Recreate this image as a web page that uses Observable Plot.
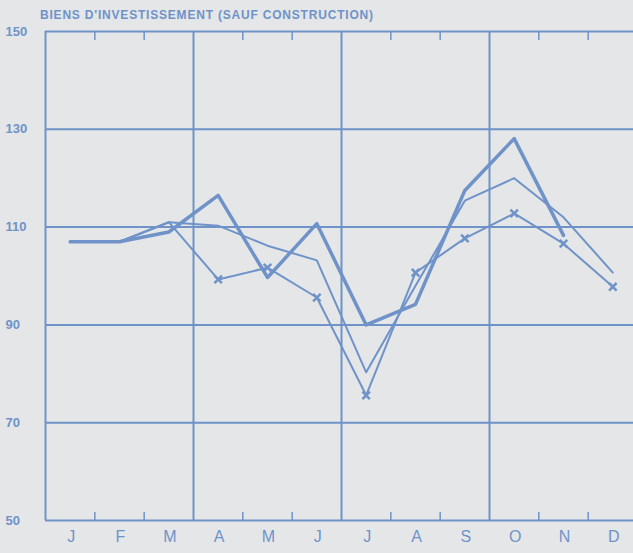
<!DOCTYPE html>
<html>
<head>
<meta charset="utf-8">
<script src="https://cdn.jsdelivr.net/npm/d3@7"></script>
<script src="https://cdn.jsdelivr.net/npm/@observablehq/plot@0.6"></script>
<style>
  html, body { margin: 0; padding: 0; background: #e4e6e8; width: 633px; height: 553px; overflow: hidden; }
  #wrap { position: relative; width: 633px; height: 553px; }
  #title { position: absolute; left: 40px; top: 8px;
    font-family: "Liberation Sans", sans-serif; font-weight: bold; font-size: 12px; letter-spacing: 0.8px;
    color: #6f93c8; white-space: nowrap; }
  svg { background: transparent; display: block; }
</style>
</head>
<body>
<div id="wrap">
<div id="chart"></div>
<div id="title">BIENS D'INVESTISSEMENT (SAUF CONSTRUCTION)</div>
</div>
<script>
const months = ["J","F","M","A","M","J","J","A","S","O","N","D"];
const yTicks = [50, 70, 90, 110, 130, 150];
const seriesThick = [107, 107, 109, 116.5, 99.7, 110.7, 90, 94.2, 117.5, 128.1, 108.3, null];
const seriesMid   = [107, 107, 111, 110.3, 106.2, 103.2, 80.3, 98, 115.4, 120, 112, 100.7];
const seriesCross = [107, 107, 111, 99.3, 101.7, 95.6, 75.6, 100.7, 107.7, 112.8, 106.6, 97.8];
const quarterLines = [0, 3, 6, 9];
const monthBounds = [1, 2, 4, 5, 7, 8, 10, 11];

const blue = "#6f93c8";
const toRows = arr => arr.map((v, i) => ({x: i + 0.5, y: v})).filter(d => d.y != null);

const chart = Plot.plot({
  width: 633,
  height: 553,
  marginLeft: 45,
  marginRight: 0,
  marginTop: 31,
  marginBottom: 33,
  style: {background: "transparent"},
  x: {type: "linear", domain: [0, 12], range: [45, 637], axis: null},
  y: {domain: [50, 150], axis: null},
  marks: [
    Plot.ruleY(yTicks, {stroke: blue, strokeWidth: 2}),
    Plot.ruleX(quarterLines, {stroke: blue, strokeWidth: 2}),
    Plot.axisX(monthBounds, {anchor: "top", label: null, tickSize: -8, tickFormat: () => "", stroke: blue, strokeWidth: 1.5, strokeOpacity: 1}),
    Plot.axisX(monthBounds, {anchor: "bottom", label: null, tickSize: -8, tickFormat: () => "", stroke: blue, strokeWidth: 1.5, strokeOpacity: 1}),
    Plot.text(months, {x: (d, i) => i + 0.5, text: d => d, frameAnchor: "bottom", dy: 21, dx: 1,
      fill: blue, fontSize: 16, fontFamily: "Liberation Sans, sans-serif"}),
    Plot.text(yTicks, {y: d => d, text: d => String(d), frameAnchor: "left", textAnchor: "start", dx: -40,
      fill: blue, fontSize: 13, fontWeight: "bold", letterSpacing: "1px", fontFamily: "Liberation Sans, sans-serif"}),
    Plot.line(toRows(seriesMid), {x: "x", y: "y", stroke: blue, strokeWidth: 2}),
    Plot.line(toRows(seriesCross), {x: "x", y: "y", stroke: blue, strokeWidth: 2}),
    Plot.dot(toRows(seriesCross).slice(3), {x: "x", y: "y", symbol: "times", r: 3.5, stroke: blue, strokeWidth: 2.5}),
    Plot.line(toRows(seriesThick), {x: "x", y: "y", stroke: blue, strokeWidth: 3.5})
  ]
});
document.getElementById("chart").appendChild(chart);
</script>
</body>
</html>
